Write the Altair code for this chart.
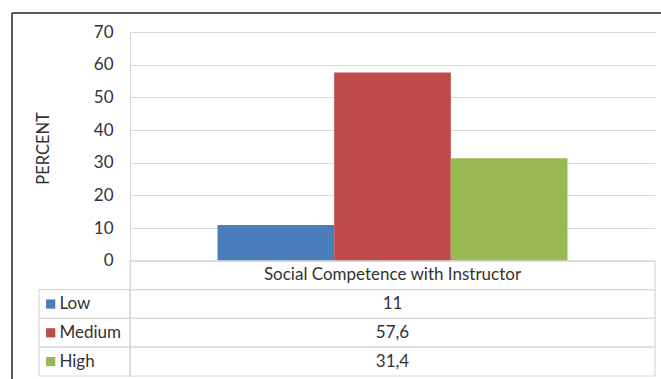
import altair as alt
import pandas as pd

# ---- data ----
series = ["Low", "Medium", "High"]
values = [11, 57.6, 31.4]
value_labels = ["11", "57,6", "31,4"]
colors = ["#4A7EBB", "#BE4B48", "#98B954"]
group_label = "Social Competence with Instructor"
y_ticks = [0, 10, 20, 30, 40, 50, 60, 70]

# ---- layout (data units) ----
X_MIN, X_MAX = -0.75, 3.75        # plot x domain, bars occupy [i, i+1]
LEFT_COL = -1.53                  # left edge of the table's label column
ROW_H = 8.8                       # table row height in y units
Y_MIN = -4 * ROW_H
FONT = "Lato"
TXT = "#333333"
GRID = "#D9D9D9"
FS = 17

bars = pd.DataFrame({
    "series": series,
    "x0": [i for i in range(len(series))],
    "x1": [i + 1 for i in range(len(series))],
    "value": values,
})

# table cells
cells = []
cells.append({"x0": X_MIN, "x1": X_MAX, "y0": 0, "y1": -ROW_H})
for r in range(len(series)):
    top = -(r + 1) * ROW_H
    bot = -(r + 2) * ROW_H
    cells.append({"x0": LEFT_COL, "x1": X_MIN, "y0": top, "y1": bot})
    cells.append({"x0": X_MIN, "x1": X_MAX, "y0": top, "y1": bot})
cells = pd.DataFrame(cells)

rows = pd.DataFrame({
    "series": series,
    "label": value_labels,
    "yc": [-(r + 1.5) * ROW_H for r in range(len(series))],
    "xc": [(X_MIN + X_MAX) / 2] * len(series),
    "xsq": [LEFT_COL + 0.1] * len(series),
    "xlab": [LEFT_COL + 0.175] * len(series),
})
header = pd.DataFrame({"label": [group_label], "xc": [(X_MIN + X_MAX) / 2], "yc": [-ROW_H / 2]})

xs = alt.Scale(domain=[X_MIN, X_MAX], nice=False, zero=False)
ys = alt.Scale(domain=[Y_MIN, 70], nice=False, zero=False)
color = alt.Scale(domain=series, range=colors)

bar_layer = alt.Chart(bars).mark_bar().encode(
    x=alt.X("x0:Q", scale=xs, axis=None),
    x2="x1:Q",
    y=alt.Y("value:Q", scale=ys, axis=alt.Axis(
        values=y_ticks, grid=True, gridColor=GRID, gridWidth=1,
        domain=True, domainColor=GRID, domainWidth=1, ticks=False,
        labelPadding=17, labelFontSize=FS, labelFont=FONT, labelColor=TXT,
        title="PERCENT", titleFont=FONT, titleFontSize=16.5, titleFontWeight="normal",
        titleColor=TXT, titleAngle=-90, titleX=-87, titleY=116,
        titleAlign="center", titleBaseline="middle")),
    y2=alt.datum(0),
    color=alt.Color("series:N", scale=color, legend=None),
)

cell_layer = alt.Chart(cells).mark_rect(fill="white", fillOpacity=0, stroke=GRID, strokeWidth=1.2).encode(
    x=alt.X("x0:Q", scale=xs), x2="x1:Q",
    y=alt.Y("y0:Q", scale=ys), y2="y1:Q",
)

header_layer = alt.Chart(header).mark_text(font=FONT, fontSize=FS, color=TXT, baseline="middle").encode(
    x=alt.X("xc:Q", scale=xs), y=alt.Y("yc:Q", scale=ys), text="label:N")

value_layer = alt.Chart(rows).mark_text(font=FONT, fontSize=FS, color=TXT, baseline="middle").encode(
    x=alt.X("xc:Q", scale=xs), y=alt.Y("yc:Q", scale=ys), text="label:N")

square_layer = alt.Chart(rows).mark_point(shape="square", filled=True, size=85, opacity=1).encode(
    x=alt.X("xsq:Q", scale=xs), y=alt.Y("yc:Q", scale=ys),
    color=alt.Color("series:N", scale=color, legend=None))

label_layer = alt.Chart(rows).mark_text(font=FONT, fontSize=FS, color=TXT, baseline="middle", align="left").encode(
    x=alt.X("xlab:Q", scale=xs), y=alt.Y("yc:Q", scale=ys), text="series:N")

frame = alt.Chart(pd.DataFrame({"k": [0]})).mark_rule(color="#5A5A5A", strokeWidth=2)
frame_top = frame.encode(x=alt.value(-118), x2=alt.value(531), y=alt.value(-19))
frame_left = frame.encode(x=alt.value(-118), y=alt.value(-19), y2=alt.value(347))

chart = alt.layer(
    bar_layer, cell_layer, header_layer, value_layer, square_layer, label_layer,
    frame_top, frame_left,
).properties(
    width=525, height=344,
    padding={"left": 130, "top": 32, "right": 6, "bottom": 3},
    autosize=alt.AutoSizeParams(type="none"),
    background="white",
).configure_view(stroke=None)

chart.save("out.html", embed_options={"renderer": "svg", "actions": False})
